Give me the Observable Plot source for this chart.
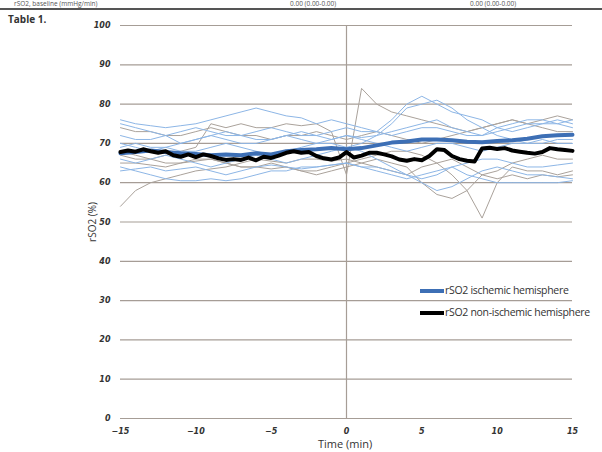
<!DOCTYPE html>
<html>
<head>
<meta charset="utf-8">
<script src="https://cdn.jsdelivr.net/npm/d3@7"></script>
<script src="https://cdn.jsdelivr.net/npm/@observablehq/plot@0.6"></script>
<style>
  html, body { margin: 0; padding: 0; background: #fff; }
  #wrap { position: relative; width: 602px; height: 452px; overflow: hidden; font-family: "Open Sans", sans-serif; }
  #chart { position: absolute; left: 0; top: 0; }
  .ov { position: absolute; white-space: nowrap; color: #333; }
  .top { top: 0px; font-size: 6.5px; line-height: 8px; color: #555; }
</style>
</head>
<body>
<div id="wrap">
  <div id="chart"></div>
  <div class="ov top" style="left:14px;">rSO2, baseline (mmHg/min)</div>
  <div class="ov top" style="left:290px;">0.00 (0.00-0.00)</div>
  <div class="ov top" style="left:470px;">0.00 (0.00-0.00)</div>
  <div style="position:absolute; left:0; top:8px; width:602px; height:2px; background:#555;"></div>
  <div class="ov" style="left:8px; top:12px; font-size:10px; font-weight:bold; color:#333;">Table 1.</div>
  <div class="ov" style="left:72px; top:215px; font-size:10px; transform:rotate(-90deg); transform-origin:center; color:#333;">rSO2 (%)</div>
  <div class="ov" style="left:318px; top:436px; font-size:11px; color:#333;">Time (min)</div>
  <div style="position:absolute; left:420px; top:289px; width:24px; height:4px; background:#3d6fb5;"></div>
  <div class="ov" style="left:445px; top:283px; font-size:10.5px; letter-spacing:-0.3px; color:#333;">rSO2 ischemic hemisphere</div>
  <div style="position:absolute; left:420px; top:311px; width:24px; height:4px; background:#000;"></div>
  <div class="ov" style="left:445px; top:305px; font-size:10.5px; letter-spacing:-0.3px; color:#333;">rSO2 non-ischemic hemisphere</div>
</div>
<script>
// Time axis (minutes)
const minutes = d3.range(-15, 16, 1);
const halfMinutes = d3.range(-15, 15.01, 0.5);
const xTicks = [-15, -10, -5, 0, 5, 10, 15];
const yTicks = [0, 10, 20, 30, 40, 50, 60, 70, 80, 90, 100];

// Mean rSO2, ischemic hemisphere (thick blue), 1-min steps
const meanIschemic = [67.5, 67.8, 68.2, 67.8, 67.5, 67.3, 67.0, 67.2, 67.0, 67.5, 67.2, 68.0, 68.3, 68.5, 68.8, 68.5,
  68.8, 69.5, 70.2, 70.5, 71.0, 71.0, 70.8, 70.4, 70.3, 70.6, 70.8, 71.2, 71.8, 72.1, 72.2];

// Mean rSO2, non-ischemic hemisphere (thick black), 0.5-min steps
const meanNonIschemic = [67.8, 68.2, 67.9, 68.5, 68.0, 67.6, 68.0, 67.0, 66.6, 67.2, 66.5, 67.2, 66.8, 66.2, 65.8, 66.0,
  65.8, 66.4, 65.7, 66.6, 66.3, 66.9, 67.6, 68.0, 67.6, 67.8, 66.8, 66.2, 65.9, 66.4, 67.8,
  66.4, 66.9, 67.6, 67.6, 67.2, 66.7, 65.9, 65.6, 66.0, 65.7, 66.8, 68.5, 68.3, 66.8, 66.0,
  65.6, 65.4, 68.7, 68.9, 68.6, 68.8, 68.2, 67.9, 67.6, 67.4, 67.8, 68.8, 68.5, 68.3, 68.1];

// Individual patients, ischemic hemisphere (thin light blue), 1-min steps
const blue1 = [76, 75, 74.5, 74, 74.5, 75, 76, 77, 78, 79, 78, 77, 76.5, 75, 76, 75, 74, 73, 76, 80, 82, 80, 78, 77, 76, 74, 73, 74, 75, 75, 74];
const blue2 = [75, 74, 73, 72, 73, 74, 73, 72, 72, 73, 74, 73, 72, 72, 73, 74, 73, 73, 72, 73, 74, 74, 73, 72, 72, 73, 74, 75, 75, 76, 75];
const blue3 = [64, 63, 62, 61, 60.5, 60.5, 61, 60.5, 61, 62, 63, 63, 64, 64, 64.5, 65, 64, 63, 62, 61, 62, 63, 64, 65, 66, 66, 65, 64, 64, 64.5, 65];
const blue4 = [69, 70, 69, 69, 70, 71, 72, 71, 70, 70, 71, 72, 71, 70, 70, 69, 68, 66, 64, 62, 61, 62, 64, 62, 61, 60, 60, 60, 60, 60, 60.5];
const blue5 = [72, 71, 71, 72, 70, 71, 72, 73, 72, 71, 71, 72, 73, 72, 71, 72, 71.5, 72, 73, 74, 75, 76, 74, 73, 72, 74, 75, 76, 76, 75, 76];
const blue6 = [66, 65, 66, 67, 66, 65, 64, 65, 66, 67, 66, 65, 66, 67, 68, 69, 70, 72, 75, 79, 80, 81, 79, 76, 74, 72, 71, 70, 70, 71, 71];
const blue7 = [63, 63.5, 64, 63, 63.5, 64, 63, 62, 63, 64, 64.5, 64, 63.5, 64, 64.5, 65, 64, 64, 63, 62, 60, 58, 59, 61, 63, 64, 63, 62, 62, 61.5, 61];
const blue8 = [70, 69, 68, 69, 68, 68, 69, 70, 69, 68, 67, 68, 69, 70, 71, 72, 71, 70, 69, 68, 69, 70, 70, 69, 68, 69, 70, 70, 71, 70, 70];

// Individual patients, non-ischemic hemisphere (thin grey), 1-min steps
const grey1 = [54, 58, 60, 61, 62, 63, 63.5, 64, 65, 66, 65.5, 65, 66, 66, 65.5, 66, 65, 64, 63, 62, 64, 65, 66, 64, 62, 61, 62, 61, 62, 61.5, 62];
const grey2 = [68, 67, 66, 67, 68, 69, 75, 74, 75, 74, 74, 75, 74.5, 75, 73, 62, 84, 80, 78, 77, 76, 75, 74, 73, 74, 75, 76, 75, 74, 73, 73];
const grey3 = [67, 66, 66, 65, 65, 66, 66, 65, 64, 64, 65, 64, 63, 63, 64, 65, 66, 67, 68, 68, 67, 65, 62, 58, 51, 60, 64, 63, 63, 62, 63];
const grey4 = [74, 73, 73, 72, 72, 73, 74, 73, 72, 72, 71, 72, 72, 73, 72, 71, 72, 73, 72, 71, 70, 71, 72, 73, 74, 75, 76, 75, 76, 77, 76];
const grey5 = [65, 65, 64.5, 64, 65, 65.5, 66, 65, 64, 64, 63.5, 64, 63, 62, 63, 64, 65, 66, 65, 64, 60, 57, 56, 58, 62, 63, 65, 66, 67, 66, 66];

const blueSeries = [blue1, blue2, blue3, blue4, blue5, blue6, blue7, blue8];
const greySeries = [grey1, grey2, grey3, grey4, grey5];

const toRows = (arr, times, id) => arr.map((v, i) => ({t: times[i], v, id}));
const blueRows = blueSeries.flatMap((s, k) => toRows(s, minutes, "b" + k));
const greyRows = greySeries.flatMap((s, k) => toRows(s, minutes, "g" + k));
const ischRows = toRows(meanIschemic, minutes, "mi");
const nonRows = toRows(meanNonIschemic, halfMinutes, "mn");

const chart = Plot.plot({
  width: 602,
  height: 452,
  marginLeft: 120,
  marginRight: 30,
  marginTop: 25,
  marginBottom: 34,
  style: {background: "transparent", fontFamily: "DejaVu Sans, sans-serif"},
  x: {domain: [-15, 15]},
  y: {domain: [0, 100]},
  marks: [
    Plot.ruleY(yTicks, {stroke: "#a69d96", strokeWidth: 1.2}),
    Plot.ruleX([0], {stroke: "#a69d96", strokeWidth: 1.2}),
    Plot.line(greyRows, {x: "t", y: "v", z: "id", stroke: "#aaa29b", strokeWidth: 1}),
    Plot.line(blueRows, {x: "t", y: "v", z: "id", stroke: "#8db6e6", strokeWidth: 1}),
    Plot.line(ischRows, {x: "t", y: "v", stroke: "#3d6fb5", strokeWidth: 4, curve: "linear"}),
    Plot.line(nonRows, {x: "t", y: "v", stroke: "#000", strokeWidth: 4, strokeLinejoin: "round"}),
    Plot.axisX({ticks: xTicks, tickSize: 0, tickPadding: 10, label: null, fontSize: 8, fontWeight: "bold", fontStyle: "italic", fill: "#333"}),
    Plot.axisY({ticks: yTicks, tickSize: 0, tickPadding: 10, label: null, fontSize: 8, fontWeight: "bold", fontStyle: "italic", fill: "#333"})
  ]
});
document.getElementById("chart").appendChild(chart);
</script>
</body>
</html>
